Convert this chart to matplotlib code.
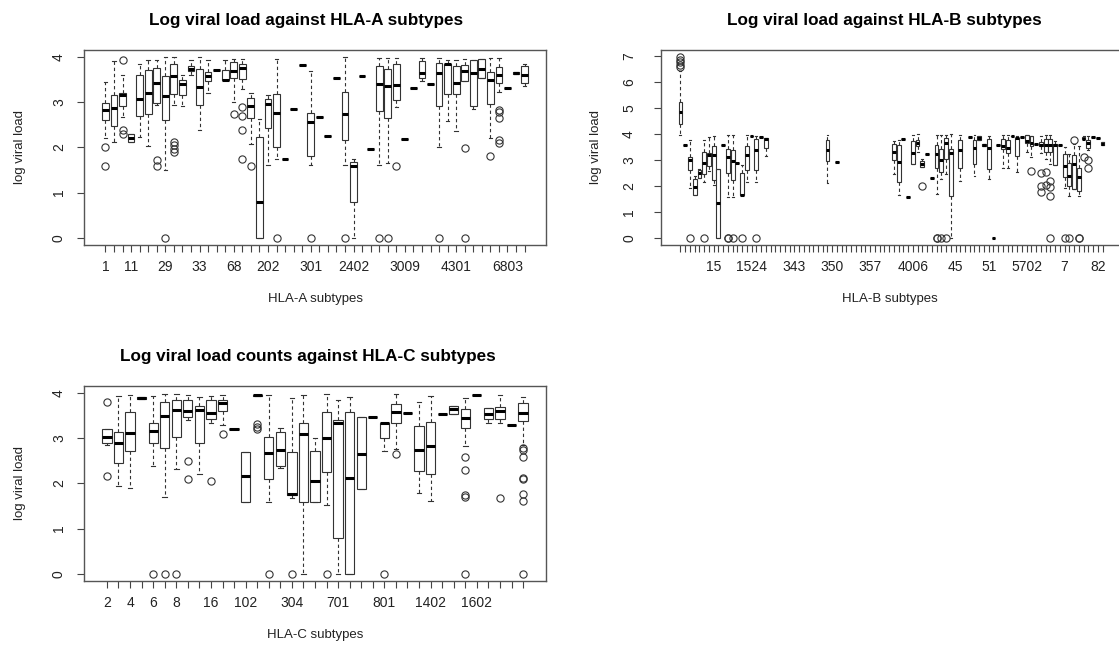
import matplotlib
matplotlib.use('Agg')
import matplotlib.pyplot as plt

plt.rcParams['font.family'] = ['Liberation Sans', 'DejaVu Sans']

# ---- HLA-A: one entry per subtype (50 subtypes), box stats of log viral load
a_q1 = [2.62, 2.47, 2.91, 2.12, 2.69, 2.75, 2.99, 2.61, 3.19, 3.16,
        3.69, 2.95, 3.47, 3.71, 3.49, 3.53, 3.51, 2.65, 0.00, 2.44,
        2.02, 1.75, 2.86, 3.82, 1.82, 2.67, 2.25, 3.54, 2.16, 0.79,
        3.58, 1.97, 2.81, 2.66, 3.06, 2.19, 3.32, 3.53, 3.41, 2.93,
        3.19, 3.19, 3.47, 2.91, 3.53, 2.97, 3.44, 3.32, 3.63, 3.44]
a_med = [2.82, 2.87, 3.17, 2.21, 3.07, 3.21, 3.44, 3.14, 3.59, 3.40,
         3.75, 3.34, 3.59, 3.71, 3.49, 3.69, 3.76, 2.93, 0.80, 2.96,
         2.77, 1.75, 2.86, 3.82, 2.56, 2.67, 2.25, 3.54, 2.75, 1.60,
         3.58, 1.97, 3.41, 3.36, 3.38, 2.19, 3.32, 3.65, 3.41, 3.66,
         3.84, 3.43, 3.70, 3.64, 3.75, 3.50, 3.61, 3.32, 3.65, 3.61]
a_q3 = [2.99, 3.16, 3.21, 2.30, 3.60, 3.71, 3.77, 3.58, 3.84, 3.49,
        3.81, 3.73, 3.67, 3.71, 3.71, 3.90, 3.86, 3.10, 2.23, 3.08,
        3.19, 1.75, 2.86, 3.82, 2.77, 2.67, 2.25, 3.54, 3.24, 1.67,
        3.58, 1.97, 3.80, 3.73, 3.86, 2.19, 3.32, 3.91, 3.41, 3.87,
        3.86, 3.81, 3.82, 3.93, 3.97, 3.67, 3.79, 3.32, 3.67, 3.81]
a_lo = [2.20, 2.13, 2.67, 2.12, 2.23, 2.04, 2.95, 1.51, 2.95, 2.92,
        3.60, 2.38, 3.21, 3.71, 3.49, 3.00, 3.30, 2.08, 0.00, 1.61,
        1.75, 1.75, 2.86, 3.82, 1.61, 2.67, 2.25, 3.54, 1.61, 0.00,
        3.58, 1.97, 1.61, 1.66, 2.90, 2.19, 3.32, 3.47, 3.41, 2.01,
        2.58, 2.36, 3.47, 2.86, 3.53, 2.21, 3.23, 3.32, 3.63, 3.36]
a_hi = [3.45, 3.91, 3.61, 2.30, 3.84, 3.93, 3.93, 4.00, 4.00, 3.61,
        3.93, 4.00, 3.93, 3.71, 3.93, 3.97, 3.97, 3.21, 2.64, 3.16,
        3.97, 1.75, 2.86, 3.82, 3.69, 2.67, 2.25, 3.54, 4.00, 1.75,
        3.58, 1.97, 3.99, 3.99, 3.99, 2.19, 3.32, 3.99, 3.41, 3.99,
        3.93, 3.93, 3.97, 3.93, 3.97, 3.99, 3.99, 3.32, 3.67, 3.84]
a_out = {1: [2.02, 1.60], 3: [3.93, 2.38, 2.30], 7: [1.73, 1.60], 8: [0.0],
         9: [2.12, 2.06, 1.96, 1.90], 16: [2.75], 17: [2.90, 2.69, 2.39, 1.75],
         18: [1.60], 21: [0.0], 25: [0.0], 29: [0.0], 33: [0.0], 34: [0.0],
         35: [1.59], 40: [0.0], 43: [1.99, 0.0], 46: [1.81],
         47: [2.84, 2.79, 2.65, 2.17, 2.10]}
a_tick_pos = [1, 4, 8, 12, 16, 20, 25, 30, 36, 42, 48]
a_tick_txt = ['1', '11', '29', '33', '68', '202', '301', '2402', '3009', '4301', '6803']

# ---- HLA-B: 90 subtypes, boxes only where data exist
b_pos = [1, 2, 3, 4, 5, 6, 7, 8, 9, 10, 11, 12, 13, 14, 15, 16, 17, 18, 19,
         32, 34,
         46, 47, 48, 49, 50, 51, 52, 53, 54, 55, 56, 57, 58, 60, 62, 63, 64,
         65, 66, 67, 68, 69, 70, 71, 72, 73, 74, 75, 76, 77, 78, 79, 80, 81,
         82, 83, 84, 85, 86, 87, 88, 89, 90]
b_q1 = [4.40, 3.58, 2.62, 1.65, 2.30, 2.46, 2.78, 2.22, 0.00, 3.60, 2.49, 2.22,
        2.89, 1.65, 2.62, 3.92, 2.62, 3.88, 3.45,
        2.97, 2.92,
        3.01, 2.14, 3.83, 1.59, 2.84, 3.55, 2.75, 3.22, 2.29, 2.71, 2.55, 3.03,
        1.62, 2.71, 3.90, 2.84, 3.77, 3.55, 2.67, 0.00, 3.57, 3.42, 3.26, 3.93,
        3.16, 3.90, 3.67, 3.55, 3.61, 3.55, 3.32, 3.32, 2.80, 3.57, 2.33, 2.00,
        1.88, 1.82, 3.80, 3.48, 3.90, 3.85, 3.57]
b_med = [4.86, 3.58, 3.00, 1.96, 2.49, 2.88, 3.20, 3.19, 1.34, 3.60, 3.11, 2.98,
         2.89, 1.65, 3.21, 3.92, 3.39, 3.88, 3.80,
         3.37, 2.92,
         3.31, 2.93, 3.83, 1.59, 3.26, 3.67, 2.84, 3.22, 2.29, 3.22, 3.01, 3.65,
         3.29, 3.39, 3.90, 3.48, 3.86, 3.60, 3.46, 0.00, 3.57, 3.55, 3.48, 3.93,
         3.86, 3.90, 3.74, 3.67, 3.61, 3.57, 3.57, 3.57, 3.57, 3.57, 2.78, 2.37,
         2.84, 2.33, 3.83, 3.67, 3.90, 3.85, 3.63]
b_q3 = [5.26, 3.58, 3.13, 2.25, 2.62, 3.33, 3.26, 3.53, 2.67, 3.60, 3.42, 3.38,
        2.89, 2.50, 3.55, 3.92, 3.82, 3.88, 3.84,
        3.76, 2.92,
        3.61, 3.58, 3.83, 1.59, 3.74, 3.76, 2.97, 3.22, 2.29, 3.57, 3.42, 3.86,
        3.42, 3.76, 3.90, 3.76, 3.93, 3.62, 3.80, 0.00, 3.57, 3.80, 3.77, 3.93,
        3.86, 3.90, 3.95, 3.93, 3.61, 3.70, 3.80, 3.80, 3.61, 3.57, 3.22, 2.90,
        3.19, 2.71, 3.90, 3.77, 3.90, 3.85, 3.70]
b_lo = [3.98, 3.58, 1.94, 1.65, 2.30, 2.15, 2.58, 2.05, 0.00, 3.60, 1.57, 1.57,
        2.89, 1.65, 2.15, 3.92, 2.15, 3.88, 3.15,
        2.13, 2.92,
        2.46, 1.65, 3.83, 1.59, 2.84, 3.31, 2.75, 3.22, 2.29, 1.69, 2.26, 2.46,
        0.00, 2.20, 3.90, 2.39, 3.77, 3.55, 2.26, 0.00, 3.57, 2.71, 2.71, 3.93,
        2.52, 3.90, 3.31, 3.10, 3.61, 3.29, 3.03, 2.84, 2.80, 3.57, 1.94, 1.60,
        1.88, 1.60, 3.80, 3.40, 3.90, 3.85, 3.57]
b_hi = [6.45, 3.58, 3.78, 2.40, 2.65, 3.76, 3.90, 3.94, 2.67, 3.60, 3.98, 3.98,
        2.89, 2.80, 3.95, 3.92, 3.94, 3.88, 3.84,
        3.96, 2.92,
        3.74, 3.76, 3.83, 1.59, 3.97, 3.99, 3.05, 3.22, 2.29, 3.95, 3.95, 3.95,
        3.99, 3.95, 3.90, 3.95, 3.93, 3.62, 3.93, 0.00, 3.57, 3.95, 3.95, 3.93,
        3.93, 3.90, 3.95, 3.93, 3.61, 3.93, 3.95, 3.95, 3.74, 3.57, 3.50, 3.22,
        3.61, 3.55, 3.93, 3.93, 3.90, 3.85, 3.70]
b_out = {1: [6.97, 6.87, 6.77, 6.68, 6.60], 3: [0.0], 6: [0.0], 11: [0.0, 0.0],
         12: [0.0], 14: [0.0], 17: [0.0], 52: [1.98], 55: [0.0, 0.0], 56: [0.0],
         57: [0.0], 75: [2.56], 77: [2.49, 2.00, 1.75], 78: [2.52, 2.05],
         79: [2.20, 1.95, 1.60, 0.0], 82: [0.0], 83: [0.0], 84: [3.77],
         85: [0.0, 0.0], 86: [3.10], 87: [2.71, 3.00]}
b_tick_pos = [8, 16, 25, 33, 41, 50, 59, 66, 74, 82, 89]
b_tick_txt = ['15', '1524', '343', '350', '357', '4006', '45', '51', '5702', '7', '82']

# ---- HLA-C: 37 subtypes
c_q1 = [2.89, 2.45, 2.72, 3.88, 2.89, 2.78, 3.04, 3.47, 2.89, 3.43,
        3.60, 3.20, 1.60, 3.93, 2.10, 2.38, 1.75, 1.60, 1.60, 2.25,
        0.80, 0.00, 1.88, 3.48, 3.00, 3.35, 3.57, 2.28, 2.22, 3.53,
        3.54, 3.24, 3.95, 3.43, 3.43, 3.29, 3.39]
c_med = [3.04, 2.89, 3.12, 3.90, 3.17, 3.50, 3.63, 3.61, 3.63, 3.57,
         3.78, 3.20, 2.16, 3.95, 2.67, 2.75, 1.77, 3.10, 2.05, 3.00,
         3.35, 2.12, 2.65, 3.48, 3.33, 3.59, 3.57, 2.75, 2.84, 3.53,
         3.64, 3.45, 3.95, 3.53, 3.61, 3.29, 3.57]
c_q3 = [3.20, 3.13, 3.58, 3.92, 3.35, 3.80, 3.84, 3.84, 3.72, 3.84,
        3.86, 3.20, 2.70, 3.97, 3.04, 3.13, 2.69, 3.34, 2.71, 3.58,
        3.41, 3.59, 3.48, 3.48, 3.35, 3.76, 3.57, 3.28, 3.37, 3.53,
        3.72, 3.65, 3.95, 3.67, 3.69, 3.29, 3.78]
c_lo = [2.86, 1.95, 1.90, 3.88, 2.38, 1.69, 2.33, 3.41, 2.21, 3.34,
        3.30, 3.20, 1.60, 3.93, 1.60, 2.34, 1.68, 0.00, 1.60, 1.53,
        0.00, 0.00, 1.88, 3.48, 2.72, 2.76, 3.57, 1.80, 1.62, 3.53,
        3.54, 2.82, 3.95, 3.34, 3.34, 3.29, 2.86]
c_hi = [3.20, 3.93, 3.95, 3.92, 3.93, 3.99, 3.99, 3.95, 3.91, 3.93,
        3.96, 3.20, 2.70, 3.97, 3.95, 3.22, 3.89, 3.96, 3.00, 3.98,
        3.86, 3.91, 3.48, 3.48, 3.35, 3.98, 3.57, 3.81, 3.93, 3.53,
        3.72, 3.89, 3.95, 3.67, 3.96, 3.29, 3.91]
c_out = {1: [3.80, 2.16], 5: [0.0], 6: [0.0], 7: [0.0], 8: [2.49, 2.10],
         10: [2.05], 11: [3.09], 14: [3.31, 3.26, 3.20], 15: [0.0], 17: [0.0],
         20: [0.0], 25: [0.0], 26: [2.65], 32: [2.58, 2.30, 1.75, 1.70, 0.0],
         35: [1.67], 37: [2.78, 2.74, 2.58, 2.12, 2.10, 1.77, 1.62, 0.0]}
c_tick_pos = [1, 3, 5, 7, 10, 13, 17, 21, 25, 29, 33]
c_tick_txt = ['2', '4', '6', '8', '16', '102', '304', '701', '801', '1402', '1602']

W, H = 1119, 646
LINE = '#333333'
fig = plt.figure(figsize=(W / 100, H / 100), dpi=100)


def px_axes(x0, y0, x1, y1):
    return fig.add_axes([x0 / W, 1 - y1 / H, (x1 - x0) / W, (y1 - y0) / H])


def panel(ax, n, pos, q1, med, q3, lo, hi, out, tick_pos, tick_txt, ymax, ytop, ypad):
    stats = []
    for i, p in enumerate(pos):
        stats.append(dict(med=med[i], q1=q1[i], q3=q3[i], whislo=lo[i],
                          whishi=hi[i], fliers=out.get(p, [])))
    ax.bxp(stats, positions=pos, widths=0.8, capwidths=0.4, patch_artist=True,
           manage_ticks=False,
           boxprops=dict(facecolor='white', edgecolor=LINE, linewidth=0.8),
           medianprops=dict(color='black', linewidth=2.2, solid_capstyle='butt'),
           whiskerprops=dict(color=LINE, linewidth=0.8, linestyle=(0, (3, 2.5))),
           capprops=dict(color=LINE, linewidth=0.8),
           flierprops=dict(marker='o', markerfacecolor='none', markeredgecolor=LINE,
                           markersize=5.2, markeredgewidth=0.8))
    ext = 0.04 * n
    ax.set_xlim(0.5 - ext, n + 0.5 + ext)
    ax.set_ylim(-0.04 * ymax, ymax * 1.04)
    labels = [''] * n
    for p, t in zip(tick_pos, tick_txt):
        labels[p - 1] = t
    ax.set_xticks(range(1, n + 1))
    ax.set_xticklabels(labels)
    ax.set_yticks(range(0, ytop + 1))
    ax.tick_params(axis='both', direction='out', length=5, width=0.8,
                   color='#444444', labelsize=10, labelcolor='#222222')
    ax.tick_params(axis='x', pad=6)
    ax.tick_params(axis='y', labelrotation=90, pad=ypad)
    for lbl in ax.get_yticklabels():
        lbl.set_va('center')
    for s in ax.spines.values():
        s.set_color('#555555')
        s.set_linewidth(1.0)


axA = px_axes(84, 50, 546, 245)
axB = px_axes(661, 50, 1122, 245)
axC = px_axes(84, 386, 546, 581)

panel(axA, 50, list(range(1, 51)), a_q1, a_med, a_q3, a_lo, a_hi, a_out,
      a_tick_pos, a_tick_txt, 4.0, 4, 8)
panel(axB, 90, b_pos, b_q1, b_med, b_q3, b_lo, b_hi, b_out,
      b_tick_pos, b_tick_txt, 6.97, 7, 13)
panel(axC, 37, list(range(1, 38)), c_q1, c_med, c_q3, c_lo, c_hi, c_out,
      c_tick_pos, c_tick_txt, 4.0, 4, 8)

title_kw = dict(ha='center', va='center', fontsize=12.3, fontweight='bold')
lab_kw = dict(ha='center', va='center', fontsize=9.5, color='#222222')
fig.text(306 / W, 1 - 20 / H, 'Log viral load against HLA-A subtypes', **title_kw)
fig.text(884 / W, 1 - 20 / H, 'Log viral load against HLA-B subtypes', **title_kw)
fig.text(308 / W, 1 - 356 / H, 'Log viral load counts against HLA-C subtypes', **title_kw)
fig.text(315 / W, 1 - 299 / H, 'HLA-A subtypes', **lab_kw)
fig.text(890 / W, 1 - 299 / H, 'HLA-B subtypes', **lab_kw)
fig.text(315 / W, 1 - 635 / H, 'HLA-C subtypes', **lab_kw)
fig.text(20 / W, 1 - 147 / H, 'log viral load', rotation=90, **lab_kw)
fig.text(596 / W, 1 - 147 / H, 'log viral load', rotation=90, **lab_kw)
fig.text(20 / W, 1 - 483 / H, 'log viral load', rotation=90, **lab_kw)

fig.savefig('out.png', dpi=100)
